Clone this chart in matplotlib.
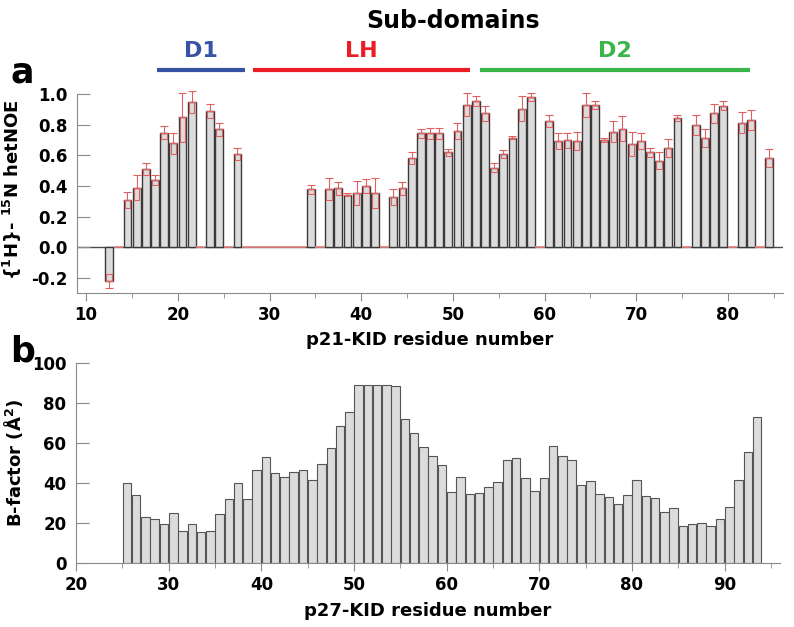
import matplotlib
matplotlib.use("Agg")
import matplotlib.pyplot as plt
from matplotlib import transforms
from matplotlib.ticker import MultipleLocator
import numpy as np

# panel a: p21-KID hetNOE (residues with data)
noe_res = [12, 14, 15, 16, 17, 18, 19, 20, 21, 23, 24, 26, 34, 36, 37, 38, 39, 40, 41,
           43, 44, 45, 46, 47, 48, 49, 50, 51, 52, 53, 54, 55, 56, 57, 58,
           60, 61, 62, 63, 64, 65, 66, 67, 68, 69, 70, 71, 72, 73, 74,
           76, 77, 78, 79, 81, 82, 84]
noe_val = [-0.22, 0.31, 0.39, 0.51, 0.44, 0.75, 0.68, 0.85, 0.95, 0.89, 0.77, 0.61,
           0.38, 0.38, 0.385, 0.345, 0.355, 0.40, 0.355,
           0.33, 0.385, 0.585, 0.745, 0.745, 0.745, 0.62, 0.76, 0.93, 0.955, 0.875,
           0.52, 0.61, 0.715, 0.905, 0.98,
           0.825, 0.695, 0.70, 0.695, 0.93, 0.93, 0.70, 0.755, 0.775, 0.675, 0.695,
           0.62, 0.565, 0.65, 0.845,
           0.80, 0.715, 0.875, 0.925, 0.815, 0.83, 0.585]
noe_err = [0.045, 0.05, 0.08, 0.04, 0.03, 0.04, 0.07, 0.16, 0.07, 0.045, 0.045, 0.04,
           0.03, 0.07, 0.04, 0.01, 0.08, 0.045, 0.10,
           0.05, 0.045, 0.04, 0.03, 0.035, 0.035, 0.025, 0.05, 0.075, 0.03, 0.05,
           0.03, 0.025, 0.01, 0.08, 0.025,
           0.04, 0.05, 0.05, 0.06, 0.08, 0.025, 0.015, 0.07, 0.08, 0.08, 0.05,
           0.03, 0.055, 0.06, 0.02,
           0.065, 0.06, 0.06, 0.03, 0.07, 0.065, 0.06]
noe_missing = [13, 22, 25, 27, 28, 29, 30, 31, 32, 33, 35, 42, 59, 75, 80, 83]

# sub-domain annotation (residue ranges)
dom_names = ["D1", "LH", "D2"]
dom_start = [17.7, 28.2, 53.0]
dom_end = [27.3, 51.9, 82.4]
dom_colors = ["#3953a4", "#ed1c24", "#39b54a"]

# panel b: p27-KID B-factors
bfac_res = list(range(25, 94))
bfac_val = [40.0, 34.2, 23.0, 22.0, 19.5, 25.2, 16.3, 19.5, 15.7, 16.2,
            24.7, 32.3, 40.3, 32.2, 46.7, 53.0, 45.0, 43.0, 45.5, 46.7,
            41.5, 49.7, 57.5, 68.8, 75.8, 89.2, 89.2, 89.2, 89.2, 88.7,
            72.3, 65.0, 58.0, 53.8, 49.2, 35.7, 43.0, 34.5, 35.0, 38.3,
            40.8, 51.7, 52.7, 42.7, 36.0, 42.5, 58.5, 53.5, 51.5, 39.2,
            41.3, 34.7, 33.0, 29.8, 34.0, 41.5, 33.5, 32.7, 25.5, 27.7,
            18.7, 19.5, 20.3, 18.5, 22.2, 28.0, 41.7, 55.8, 73.3]

plt.rcParams["font.family"] = ["DejaVu Sans"]
plt.rcParams["font.weight"] = "bold"
plt.rcParams["mathtext.default"] = "bf"

RED = "#e06060"
SPINE = "#8a8a8a"

fig = plt.figure(figsize=(7.94, 6.27), dpi=100)
ax1 = fig.add_axes([0.097, 0.532, 0.889, 0.330])
ax2 = fig.add_axes([0.0957, 0.1016, 0.887, 0.319])

# ---- panel a
x = np.array(noe_res) + 0.5
v = np.array(noe_val)
e = np.array(noe_err)
sgn = np.where(v >= 0, 1, -1)
ax1.axhline(0, color="#4a4a4a", lw=1.0, zorder=1)
ax1.bar(x, v, width=0.85, color="#dcdcdc", edgecolor="#3a3a3a", lw=1.0, zorder=2)
ax1.bar(x, sgn * e, bottom=v - sgn * e, width=0.6, fill=False,
        edgecolor=RED, lw=0.8, zorder=3)
ax1.errorbar(x, v, yerr=[np.where(v < 0, e, 0), np.where(v >= 0, e, 0)], fmt="none",
             ecolor=RED, elinewidth=0.8, capsize=2.8, capthick=0.8, zorder=3)
# unassigned residues: red marks on the zero line
miss = np.array(noe_missing)
ax1.hlines(np.zeros(len(miss)), miss, miss + 1, color="#e88080", lw=1.2, zorder=3)

ax1.set_xlim(9, 86)
ax1.set_ylim(-0.3, 1.05)
ax1.spines["top"].set_visible(False)
ax1.spines["right"].set_visible(False)
ax1.spines["left"].set_bounds(-0.3, 1.0)
ax1.set_yticks([-0.2, 0.0, 0.2, 0.4, 0.6, 0.8, 1.0])
ax1.set_yticklabels(["-0.2", "0.0", "0.2", "0.4", "0.6", "0.8", "1.0"])
ax1.xaxis.set_major_locator(MultipleLocator(10))
ax1.xaxis.set_minor_locator(MultipleLocator(5))
ax1.set_xlabel("p21-KID residue number", fontsize=13, fontweight="bold", labelpad=5)
ax1.set_ylabel(r"$\{^{1}$H$\}$- $^{15}$N hetNOE", fontsize=13, fontweight="bold")
ax1.yaxis.set_label_coords(-0.075, 0.5)

# sub-domain bars above panel a
tr = transforms.blended_transform_factory(ax1.transData, fig.transFigure)
for name, s, en, c in zip(dom_names, dom_start, dom_end, dom_colors):
    ax1.plot([s, en], [0.888, 0.888], color=c, lw=3, transform=tr, clip_on=False,
             solid_capstyle="butt")
    ax1.text((s + en) / 2, 0.918, name, color=c, fontsize=16, fontweight="bold",
             ha="center", va="center", transform=tr)
fig.text(0.571, 0.966, "Sub-domains", fontsize=17, fontweight="bold",
         ha="center", va="center")

# ---- panel b
ax2.bar(np.array(bfac_res) + 0.5, bfac_val, width=0.92, color="#dcdcdc",
        edgecolor="#555555", lw=0.8, zorder=2)
ax2.set_xlim(20, 96)
ax2.set_ylim(0, 100)
ax2.spines["top"].set_visible(False)
ax2.spines["right"].set_visible(False)
ax2.set_yticks([0, 20, 40, 60, 80, 100])
ax2.xaxis.set_major_locator(MultipleLocator(10))
ax2.xaxis.set_minor_locator(MultipleLocator(5))
ax2.set_xlabel("p27-KID residue number", fontsize=13, fontweight="bold", labelpad=6)
ax2.set_ylabel("B-factor (Å$^{2}$)", fontsize=13, fontweight="bold")
ax2.yaxis.set_label_coords(-0.072, 0.5)

for ax in (ax1, ax2):
    for sp in ("left", "bottom"):
        ax.spines[sp].set_color(SPINE)
    ax.tick_params(axis="y", direction="in", length=9, color=SPINE, labelsize=12, pad=7)
    ax.tick_params(axis="x", which="major", direction="out", length=6, color=SPINE,
                   labelsize=12, pad=3)
    ax.tick_params(axis="x", which="minor", direction="out", length=3.5, color=SPINE)
    for lab in ax.get_xticklabels() + ax.get_yticklabels():
        lab.set_fontweight("bold")

fig.text(0.013, 0.868, "a", fontsize=25, fontweight="bold", va="baseline")
fig.text(0.013, 0.423, "b", fontsize=25, fontweight="bold", va="baseline")

fig.savefig("out.png", dpi=100)
